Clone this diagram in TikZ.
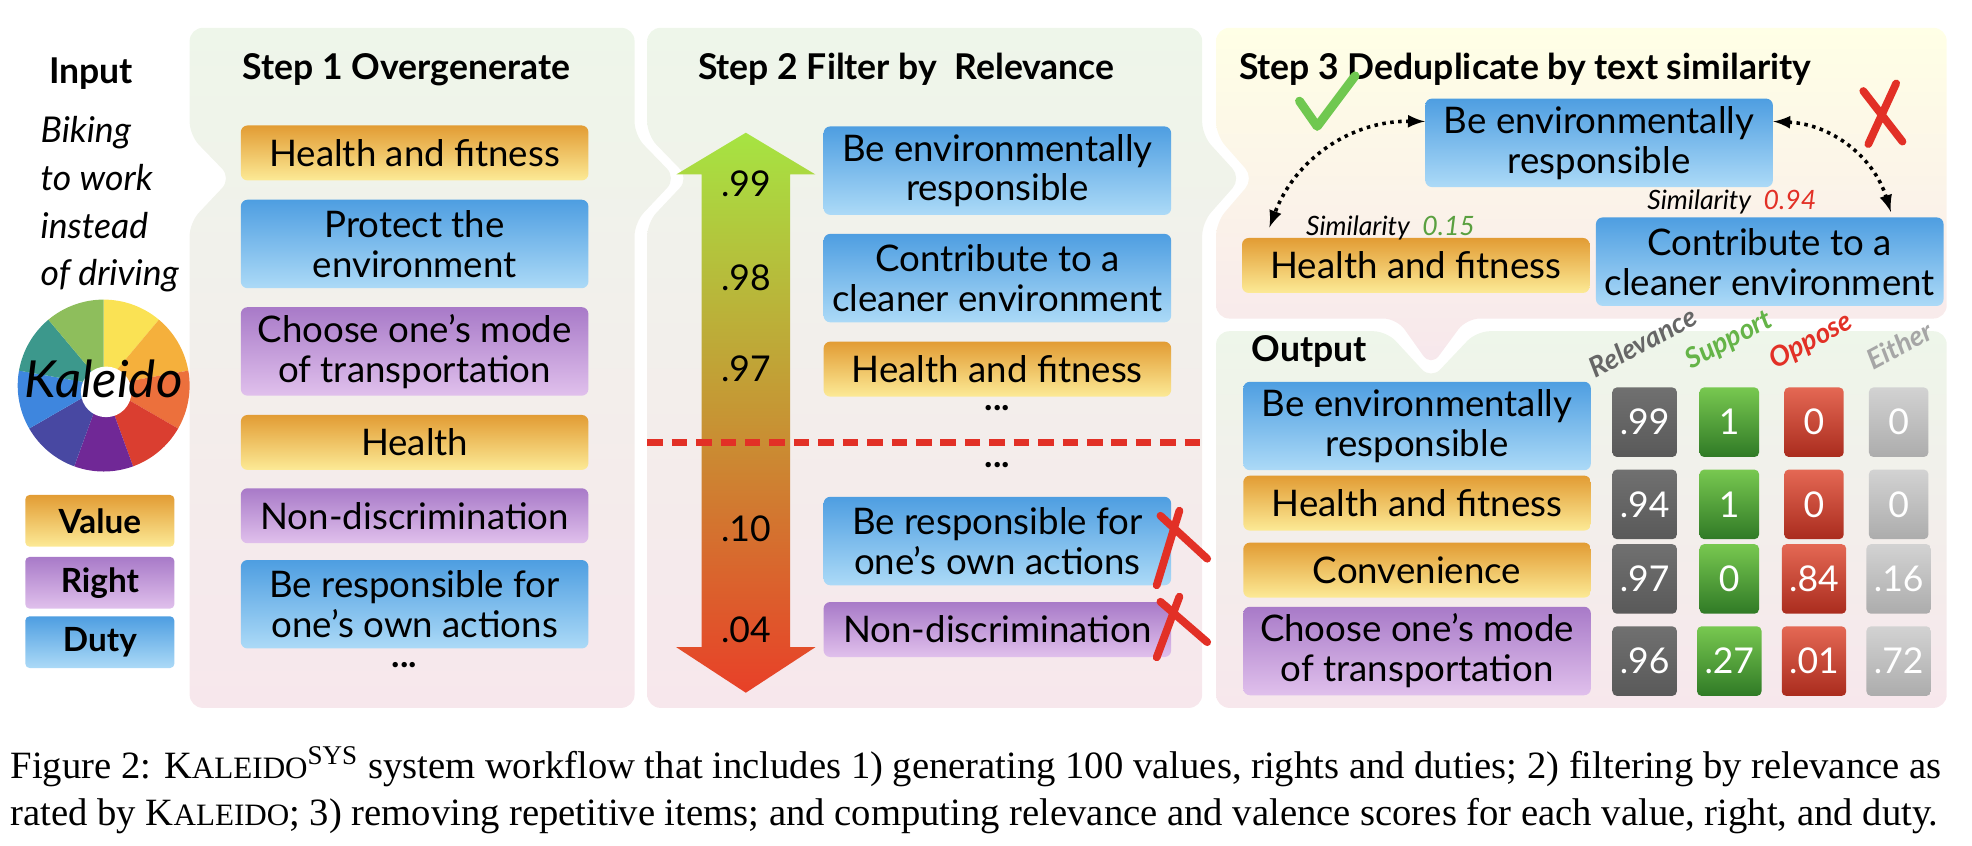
\documentclass[tikz,border=0pt]{standalone}
\usepackage{fontspec}
\setmainfont{Lato}
\newfontfamily\capfont{Liberation Serif}
\usetikzlibrary{calc, positioning, arrows}

\definecolor{valtop}{RGB}{226,156,52}
\definecolor{valbot}{RGB}{252,234,150}
\definecolor{dtytop}{RGB}{78,158,225}
\definecolor{dtybot}{RGB}{172,218,247}
\definecolor{rgttop}{RGB}{168,122,200}
\definecolor{rgtbot}{RGB}{224,192,236}
\definecolor{pantop}{RGB}{238,246,234}
\definecolor{panbot}{RGB}{247,231,236}
\definecolor{xred}{RGB}{226,48,38}
\definecolor{okgreen}{RGB}{112,200,80}

\tikzset{
  item/.style={rounded corners=3pt, minimum width=5.5cm, align=center,
    font=\fontsize{16.5}{18}\selectfont, inner sep=1pt},
  val/.style={item, top color=valtop, bottom color=valbot, minimum height=0.87cm},
  dty/.style={item, top color=dtytop, bottom color=dtybot, minimum height=1.4cm},
  rgt/.style={item, top color=rgttop, bottom color=rgtbot, minimum height=1.4cm},
  tag/.style={rounded corners=2pt, minimum width=2.36cm, minimum height=0.82cm,
    font=\fontsize{15}{17}\selectfont\bfseries},
  tile/.style={rounded corners=2pt, minimum width=0.94cm, minimum height=1.1cm,
    text=white, font=\fontsize{16}{18}\selectfont},
  title/.style={anchor=west, font=\fontsize{16}{18}\selectfont\bfseries},
  panel/.style={rounded corners=6pt, top color=pantop, bottom color=panbot, draw=none},
  cross/.style={xred, line width=3.5pt, line cap=round},
  head/.style={rotate=28, anchor=south west, inner sep=0pt, font=\fontsize{12.5}{13}\selectfont\bfseries\itshape}
}

\begin{document}
\begin{tikzpicture}[x=0.02cm, y=-0.02cm]
  \useasboundingbox (0,0) rectangle (1560,669);

  % panels
  \shade[panel] (150,22) -- (502,22) -- (502,107) -- (535,141) -- (502,176) -- (502,560)
    -- (150,560) -- (150,176) -- (183,141) -- (150,107) -- cycle;
  \shade[panel] (512,22) -- (951,22) -- (951,107) -- (982,141) -- (951,176) -- (951,560)
    -- (512,560) -- (512,176) -- (545,141) -- (512,107) -- cycle;
  \shade[panel, top color=white!60!yellow!25, bottom color=panbot] (962,22) -- (1540,22) -- (1540,252) -- (1160,252) -- (1132,290)
    -- (1105,252) -- (962,252) -- (962,176) -- (992,141) -- (962,107) -- cycle;
  \shade[panel] (962,262) -- (1097,262) -- (1132,300) -- (1168,262) -- (1540,262)
    -- (1540,560) -- (962,560) -- cycle;

  % input
  \node[font=\fontsize{16}{18}\selectfont\bfseries] (inp) at (72,58) {Input};
  \node[anchor=north west, align=left, font=\fontsize{16}{21.5}\selectfont\itshape] (txt) at (26,86)
    {Biking\\to work\\instead\\of driving};

  % kaleido wheel
  \foreach \c [count=\i] in {{250,226,84},{245,176,60},{236,112,60},{218,62,48},{112,40,150},
                              {72,72,162},{62,134,222},{60,152,140},{142,190,92}} {
    \definecolor{seg}{RGB}{\c}
    \fill[seg] (82,305) -- ++({-90+40*(\i-1)}:68) arc[start angle={-90+40*(\i-1)}, end angle={-50+40*(\i-1)}, radius=68] -- cycle;
  }
  \fill[white] (84,310) circle (20);
  \node[font=\fontsize{23}{25}\selectfont\itshape, text=black] (kal) at (82,300) {Kaleido};

  % legend
  \node[tag, top color=valtop, bottom color=valbot] (lv) at (79,412) {Value};
  \node[tag, top color=rgttop, bottom color=rgtbot] (lr) at (79,461) {Right};
  \node[tag, top color=dtytop, bottom color=dtybot] (ld) at (79,508) {Duty};

  % step 1
  \node[title] (t1) at (186,55) {Step 1 Overgenerate};
  \node[val] (s1a) at (328,121) {Health and fitness};
  \node[dty] (s1b) at (328,193) {Protect the\\environment};
  \node[rgt] (s1c) at (328,278) {Choose one’s mode\\of transportation};
  \node[val] (s1d) at (328,350) {Health};
  \node[rgt, minimum height=0.87cm] (s1e) at (328,408) {Non-discrimination};
  \node[dty] (s1f) at (328,478) {Be responsible for\\one’s own actions};
  \node[font=\fontsize{16}{18}\selectfont\bfseries] (s1g) at (320,526) {...};

  % step 2
  \node[title] (t2) at (546,55) {Step 2 Filter by\ \ Relevance};
  \shade[top color={rgb,255:red,166;green,228;blue,66}, bottom color={rgb,255:red,232;green,64;blue,40},
    middle color={rgb,255:red,198;green,150;blue,52}]
    (590,105) -- (645,138) -- (625,138) -- (625,512) -- (645,512) -- (590,548)
    -- (535,512) -- (555,512) -- (555,138) -- (535,138) -- cycle;
  \foreach \v/\y in {.99/145, .98/220, .97/292, .10/418, .04/498}
    \node[font=\fontsize{16}{18}\selectfont] at (590,\y) {\v};
  \node[dty] (s2a) at (789,135) {Be environmentally\\responsible};
  \node[dty] (s2b) at (789,220) {Contribute to a\\cleaner environment};
  \node[val] (s2c) at (789,292) {Health and fitness};
  \node[font=\fontsize{16}{18}\selectfont\bfseries] (s2d) at (789,323) {...};
  \draw[xred, line width=3.5pt, dash pattern=on 7pt off 4pt] (512,350) -- (953,350);
  \node[font=\fontsize{16}{18}\selectfont\bfseries] (s2e) at (789,368) {...};
  \node[dty] (s2f) at (789,428) {Be responsible for\\one’s own actions};
  \node[rgt, minimum height=0.87cm] (s2g) at (789,498) {Non-discrimination};
  \draw[cross] (918,408) -- (955,442) (933,404) -- (915,463);
  \draw[cross] (918,476) -- (955,508) (933,472) -- (915,520);

  % step 3
  \node[title] (t3) at (974,55) {Step 3 Deduplicate by text similarity};
  \node[dty] (s3a) at (1265,113) {Be environmentally\\responsible};
  \node[val] (s3b) at (1120,210) {Health and fitness};
  \node[dty] (s3c) at (1400,207) {Contribute to a\\cleaner environment};
  \draw[dotted, line width=1.6pt, <->, >=latex] (s3a.173) to[bend right=35] ($(s3b.north west)+(22,-8)$);
  \draw[dotted, line width=1.6pt, <->, >=latex] (s3a.7) to[bend left=35] ($(s3c.north east)+(-42,-4)$);
  \node[font=\fontsize{12}{14}\selectfont\itshape] (sim1) at (1100,180)
    {Similarity\ \ \textcolor{okgreen!80!black}{0.15}};
  \node[font=\fontsize{12}{14}\selectfont\itshape] (sim2) at (1370,160)
    {Similarity\ \ \textcolor{xred}{0.94}};
  \draw[okgreen, line width=4pt, line cap=round, line join=round] (1028,80) -- (1042,100) -- (1072,60);
  \draw[cross] (1474,72) -- (1505,112) (1500,66) -- (1478,114);

  % output
  \node[title] (t4) at (984,278) {Output};
  \node[dty] (o1) at (1121,337) {Be environmentally\\responsible};
  \node[val] (o2) at (1121,398) {Health and fitness};
  \node[val] (o3) at (1121,451) {Convenience};
  \node[rgt] (o4) at (1121,515) {Choose one’s mode\\of transportation};
  \node[head, text=gray!80!black] (h1) at (1262,300) {Relevance};
  \node[head, text=okgreen!90!black] (h2) at (1340,296) {Support};
  \node[head, text=xred] (h3) at (1406,296) {Oppose};
  \node[head, text=gray!70] (h4) at (1482,294) {Either};
  \foreach \y/\a/\b/\c/\d in {334/.99/1/0/0, 399/.94/1/0/0, 458/.97/0/.84/.16, 523/.96/.27/.01/.72} {
    \node[tile, top color=gray!60!black!80, bottom color=gray!70!black] at (1301,\y) {\a};
    \node[tile, top color={rgb,255:red,120;green,200;blue,80}, bottom color={rgb,255:red,48;green,122;blue,38}] at (1368,\y) {\b};
    \node[tile, top color={rgb,255:red,228;green,104;blue,84}, bottom color={rgb,255:red,170;green,44;blue,30}] at (1435,\y) {\c};
    \node[tile, top color=gray!35, bottom color=gray!65] at (1502,\y) {\d};
  }

  % caption
  \node[anchor=base west, font=\capfont\fontsize{17.4}{19}\selectfont, inner sep=0] (cap1) at (8,616)
    {Figure 2: K{\fontsize{14}{15}\selectfont ALEIDO}\textsuperscript{SYS} system workflow that includes 1) generating 100 values, rights and duties; 2) filtering by relevance as};
  \node[anchor=base west, font=\capfont\fontsize{17.4}{19}\selectfont, inner sep=0] (cap2) at (8,653)
    {rated by K{\fontsize{14}{15}\selectfont ALEIDO}; 3) removing repetitive items; and computing relevance and valence scores for each value, right, and duty.};
\end{tikzpicture}
\end{document}
